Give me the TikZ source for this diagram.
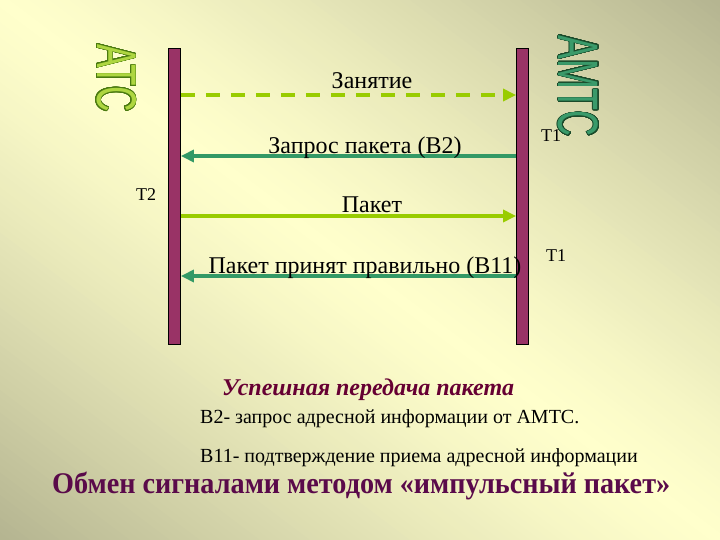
\documentclass[tikz,border=0pt]{standalone}
\usepackage{fontspec}
\setmainfont{Liberation Serif}
\newfontfamily\arialf{Liberation Sans}
\usepackage[copies]{contour}
\contournumber{32}
\usetikzlibrary{arrows.meta}
\definecolor{bglight}{HTML}{FFFFCC}
\definecolor{bgdark}{HTML}{B4B490}
\definecolor{barfill}{HTML}{993366}
\definecolor{ygreen}{HTML}{99CC00}
\definecolor{dgreen}{HTML}{339966}
\definecolor{atcfill}{HTML}{AED640}
\definecolor{atcline}{HTML}{4A7A10}
\definecolor{amtcfill}{HTML}{3A9A6A}
\definecolor{amtcline}{HTML}{1A4A2A}
\definecolor{maroon}{HTML}{660033}
\definecolor{titlecol}{HTML}{5A0A4A}
\tikzset{
  bar/.style={draw=black, line width=0.8pt, fill=barfill, minimum width=12pt, minimum height=296pt, inner sep=0pt},
  sig/.style={line width=4pt, -{Triangle[length=13pt,width=12pt]}},
  lbl/.style={font=\fontsize{24}{28}\selectfont, anchor=base, inner sep=0pt},
  tlbl/.style={font=\fontsize{18}{22}\selectfont, anchor=base west, inner sep=0pt},
  note/.style={font=\fontsize{20}{24}\selectfont, anchor=base west, inner sep=0pt}
}
\begin{document}
\begin{tikzpicture}[x=1pt,y=-1pt]
\useasboundingbox (0,0) rectangle (720,540);
% background: diagonal bands, light along the TL-BR diagonal, dark towards TR and BL
\begin{scope}
\clip (0,0) rectangle (720,540);
\foreach \s in {-438,-432,...,432}{
  \pgfmathsetmacro{\p}{max(0,100-100*(abs(\s+3)/432)^1.3)}
  \pgfmathsetmacro{\ax}{0.6*\s-800}\pgfmathsetmacro{\ay}{-0.8*\s-600}
  \pgfmathsetmacro{\bx}{0.6*\s+800}\pgfmathsetmacro{\by}{-0.8*\s+600}
  \pgfmathsetmacro{\cx}{0.6*(\s+7)+800}\pgfmathsetmacro{\cy}{-0.8*(\s+7)+600}
  \pgfmathsetmacro{\dx}{0.6*(\s+7)-800}\pgfmathsetmacro{\dy}{-0.8*(\s+7)-600}
  \fill[bglight!\p!bgdark] (\ax,\ay) -- (\bx,\by) -- (\cx,\cy) -- (\dx,\dy) -- cycle;
}
\end{scope}
% bars
\node[bar] (L) at (174.5,196) {};
\node[bar] (R) at (522.5,196) {};
% station names
\node[rotate=-90, inner sep=0pt] (atc) at (116,78) {\arialf\fontsize{56}{60}\selectfont\contourlength{0.8pt}{\color{atcfill}\contour{atcline}{\scalebox{0.63}[1]{АТС}}}};
\node[rotate=-90, inner sep=0pt] (amtc) at (578,86) {\arialf\fontsize{57}{60}\selectfont\contourlength{0.8pt}{\color{amtcfill}\contour{amtcline}{\scalebox{0.63}[1]{АМТС}}}};
% endpoints
\coordinate (l1) at (L.east |- 0,95);
\coordinate (r1) at (R.west |- 0,95);
\coordinate (l2) at (L.east |- 0,156);
\coordinate (r2) at (R.west |- 0,156);
\coordinate (l3) at (L.east |- 0,216);
\coordinate (r3) at (R.west |- 0,216);
\coordinate (l4) at (L.east |- 0,276);
\coordinate (r4) at (R.west |- 0,276);
% signals
\draw[sig, ygreen, dash pattern=on 14pt off 11pt] (l1) -- (r1);
\draw[sig, dgreen] (r2) -- (l2);
\draw[sig, ygreen] (l3) -- (r3);
\draw[sig, dgreen] (r4) -- (l4);
% labels
\node[lbl] (z) at (372,89) {Занятие};
\node[lbl] (zp) at (365,154) {Запрос пакета (В2)};
\node[lbl] (p) at (372,213) {Пакет};
\node[lbl] (pp) at (365,273) {Пакет принят правильно (В11)};
\node[tlbl] (t1a) at (541,142) {T1};
\node[tlbl] (t2) at (136,201) {T2};
\node[tlbl] (t1b) at (546,261) {T1};
% notes
\node[note, font=\fontsize{24}{28}\selectfont\bfseries\itshape, text=maroon] (succ) at (222,395) {Успешная передача пакета};
\node[note] (n1) at (200,423) {В2- запрос адресной информации от АМТС.};
\node[note] (n2) at (200,462) {В11- подтверждение приема адресной информации};
\node[note, font=\fontsize{30}{34}\selectfont\bfseries, text=titlecol] (title) at (52,493) {\scalebox{0.94}[1]{Обмен сигналами методом «импульсный пакет»}};
\end{tikzpicture}
\end{document}
